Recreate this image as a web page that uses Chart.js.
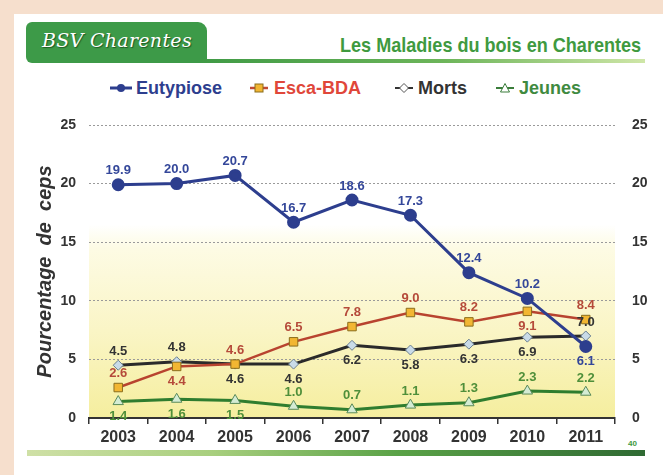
<!DOCTYPE html>
<html>
<head>
<meta charset="utf-8">
<script src="https://cdn.jsdelivr.net/npm/chart.js@4.4.1/dist/chart.umd.min.js"></script>
<style>
  html, body { margin:0; padding:0; }
  body { width:663px; height:475px; position:relative; overflow:hidden; background:#f6dfcd; font-family:"Liberation Sans", Arial, sans-serif; }
  #panel { position:absolute; left:14px; top:14px; width:649px; height:461px; background:#fff; }
  #tab { position:absolute; left:26px; top:22px; width:181px; height:41px; background:#3d9a48; border-radius:6px 9px 0 6px; }
  #tabtext { position:absolute; left:42px; top:29px; color:#fff; font-family:"DejaVu Serif", serif; font-style:italic; font-size:19px; letter-spacing:0.3px; text-shadow:1px 1px 1px #1f5a25; white-space:nowrap; }
  #hline { position:absolute; left:200px; top:59px; width:445px; height:4px; background:linear-gradient(to right,#3f9a45,#6db55a 55%,#cfe6a8); }
  #title { position:absolute; right:22px; top:33px; color:#3f9a3f; font-family:"Liberation Sans",Arial,sans-serif; font-weight:bold; font-size:21px; white-space:nowrap; transform:scaleX(0.86); transform-origin:right center; }
  #legend { position:absolute; top:77px; left:0; width:663px; height:22px; }
  .li { position:absolute; top:0; height:22px; font-weight:bold; font-size:18px; line-height:22px; white-space:nowrap; }
  .li svg { position:absolute; top:5px; left:0; }
  .li span { position:absolute; top:0; }
  #bline { position:absolute; left:27px; top:450px; width:618px; height:6px; background:linear-gradient(to right,#cfe0a6,#a8cf7e 30%,#5aa247 60%,#2f6a33); }
  #pg { position:absolute; left:628px; top:439px; font-size:8px; font-weight:bold; color:#3f9a3f; }
  canvas#c { position:absolute; left:0; top:0; }
</style>
</head>
<body>
<div id="panel"></div>
<div id="tab"></div>
<div id="tabtext">BSV Charentes</div>
<div id="hline"></div>
<div id="title">Les Maladies du bois en Charentes</div>
<div id="legend">
  <div class="li" style="left:110px;">
    <svg width="24" height="12"><line x1="0" y1="6" x2="22" y2="6" stroke="#2d3e8e" stroke-width="3"/><circle cx="11" cy="6" r="4" fill="#2d3e8e"/></svg>
    <span style="left:26px;color:#2d3e8e;">Eutypiose</span>
  </div>
  <div class="li" style="left:250px;">
    <svg width="20" height="12"><line x1="0" y1="6" x2="18" y2="6" stroke="#c04a35" stroke-width="2.5"/><rect x="5" y="2" width="8" height="8" fill="#f2b632" stroke="#8a6d1d" stroke-width="1"/></svg>
    <span style="left:24px;color:#e0473a;">Esca-BDA</span>
  </div>
  <div class="li" style="left:395px;">
    <svg width="20" height="12"><line x1="0" y1="6" x2="18" y2="6" stroke="#333" stroke-width="2"/><polygon points="9,1.5 13.5,6 9,10.5 4.5,6" fill="#fff" stroke="#555" stroke-width="1"/></svg>
    <span style="left:23px;color:#333;">Morts</span>
  </div>
  <div class="li" style="left:496px;">
    <svg width="20" height="12"><line x1="0" y1="6" x2="18" y2="6" stroke="#3a7d3a" stroke-width="2"/><polygon points="9,1.5 13.5,10 4.5,10" fill="#fff" stroke="#3a7d3a" stroke-width="1"/></svg>
    <span style="left:23px;color:#3f8a3f;">Jeunes</span>
  </div>
</div>
<div id="bline"></div>
<div id="pg">40</div>
<canvas id="c" width="663" height="475"></canvas>
<script>
// ---- data ----
const years = ['2003','2004','2005','2006','2007','2008','2009','2010','2011'];
const eutypiose = [19.9, 20.0, 20.7, 16.7, 18.6, 17.3, 12.4, 10.2, 6.1];
const escaBDA   = [2.6, 4.4, 4.6, 6.5, 7.8, 9.0, 8.2, 9.1, 8.4];
const morts     = [4.5, 4.8, 4.6, 4.6, 6.2, 5.8, 6.3, 6.9, 7.0];
const jeunes    = [1.4, 1.6, 1.5, 1.0, 0.7, 1.1, 1.3, 2.3, 2.2];
const yTicks    = [0, 5, 10, 15, 20, 25];
// which side of the point each value label sits on
const eutSide    = ['up','up','up','up','up','up','up','up','down'];
const escaSide   = ['up','down','up','up','up','up','up','down','up'];
const mortsSide  = ['up','up','down','down','down','down','down','down','up'];
const jeunesSide = ['down','down','down','up','up','up','up','up','up'];

const bgPlugin = {
  id:'bg',
  beforeDraw(chart){
    const {ctx, chartArea:a} = chart;
    const g = ctx.createLinearGradient(0, a.top, 0, a.bottom);
    g.addColorStop(0, '#ffffff');
    g.addColorStop(0.34, '#ffffff');
    g.addColorStop(0.42, '#fdfbe4');
    g.addColorStop(0.7, '#faf5c6');
    g.addColorStop(1, '#f5ee9e');
    ctx.save(); ctx.fillStyle = g; ctx.fillRect(a.left, a.top, a.right - a.left, a.bottom - a.top); ctx.restore();
  }
};
const labelPlugin = {
  id:'vlabels',
  afterDatasetsDraw(chart){
    const ctx = chart.ctx;
    ctx.save();
    ctx.font = 'bold 13px "Liberation Sans", Arial, sans-serif';
    ctx.textAlign = 'center'; ctx.textBaseline = 'middle';
    chart.data.datasets.forEach((ds, di) => {
      const meta = chart.getDatasetMeta(di);
      meta.data.forEach((pt, i) => {
        const up = ds.sides[i] === 'up';
        const y = up ? pt.y - 14 : pt.y + 15;
        ctx.fillStyle = ds.labelColor;
        ctx.fillText(ds.data[i].toFixed(1), pt.x, y);
      });
    });
    ctx.restore();
  }
};

new Chart(document.getElementById('c'), {
  type:'line',
  data:{
    labels: years,
    datasets:[
      { label:'Eutypiose', data:eutypiose, sides:eutSide, labelColor:'#34479a', borderColor:'#2d3e8e', backgroundColor:'#2d3e8e', borderWidth:3, pointStyle:'circle', pointRadius:5, pointBorderColor:'#2d3e8e', pointBackgroundColor:'#2d3e8e', tension:0 },
      { label:'Esca-BDA', data:escaBDA, sides:escaSide, labelColor:'#b54a3a', borderColor:'#b8432f', backgroundColor:'#f2b632', borderWidth:2.5, pointStyle:'rect', pointRadius:6, pointBorderColor:'#8a6d1d', pointBorderWidth:1, pointBackgroundColor:'#f2b632', tension:0 },
      { label:'Morts', data:morts, sides:mortsSide, labelColor:'#333333', borderColor:'#2a2a2a', backgroundColor:'#c9dbe8', borderWidth:3, pointStyle:'rectRot', pointRadius:5, pointBorderColor:'#6a7f90', pointBorderWidth:1, pointBackgroundColor:'#c9dbe8', tension:0 },
      { label:'Jeunes', data:jeunes, sides:jeunesSide, labelColor:'#4f8f3a', borderColor:'#2f7d2f', backgroundColor:'#cfe8cf', borderWidth:3, pointStyle:'triangle', pointRadius:6, pointBorderColor:'#5a8a5a', pointBorderWidth:1, pointBackgroundColor:'#d4ecd4', tension:0 }
    ]
  },
  options:{
    responsive:false, animation:false, devicePixelRatio:1,
    layout:{ padding:{ left:33, right:8, top:125, bottom:27 } },
    plugins:{ legend:{display:false}, tooltip:{enabled:false} },
    scales:{
      x:{
        offset:true,
        grid:{ offset:true, drawOnChartArea:false, drawTicks:true, tickLength:6, color:'#333', lineWidth:1.5 },
        border:{ display:true, color:'#333', width:2 },
        ticks:{ font:{ family:'"Liberation Sans", Arial, sans-serif', weight:'bold', size:16 }, color:'#333', padding:4 },
        afterFit(s){ s.height = 30; }
      },
      y:{
        position:'left', min:0, max:25,
        afterBuildTicks(s){ s.ticks = yTicks.map(v => ({value:v})); },
        grid:{ color:'#9a9a9a', lineWidth:1, drawTicks:false },
        border:{ display:false, dash:[2,2] },
        ticks:{ font:{ family:'"Liberation Sans", Arial, sans-serif', weight:'bold', size:14 }, color:'#333', padding:13 },
        title:{ display:true, text:'Pourcentage  de  ceps', color:'#333', font:{ family:'"Liberation Sans", Arial, sans-serif', weight:'bold', style:'italic', size:20 }, padding:{top:0, bottom:0} },
        afterFit(s){ s.width = 56; }
      },
      y2:{
        position:'right', min:0, max:25,
        afterBuildTicks(s){ s.ticks = yTicks.map(v => ({value:v})); },
        grid:{ display:false, drawTicks:false },
        border:{ display:false },
        ticks:{ font:{ family:'"Liberation Sans", Arial, sans-serif', weight:'bold', size:14 }, color:'#333', padding:17 },
        afterFit(s){ s.width = 40; }
      }
    }
  },
  plugins:[bgPlugin, labelPlugin]
});
</script>
</body>
</html>
